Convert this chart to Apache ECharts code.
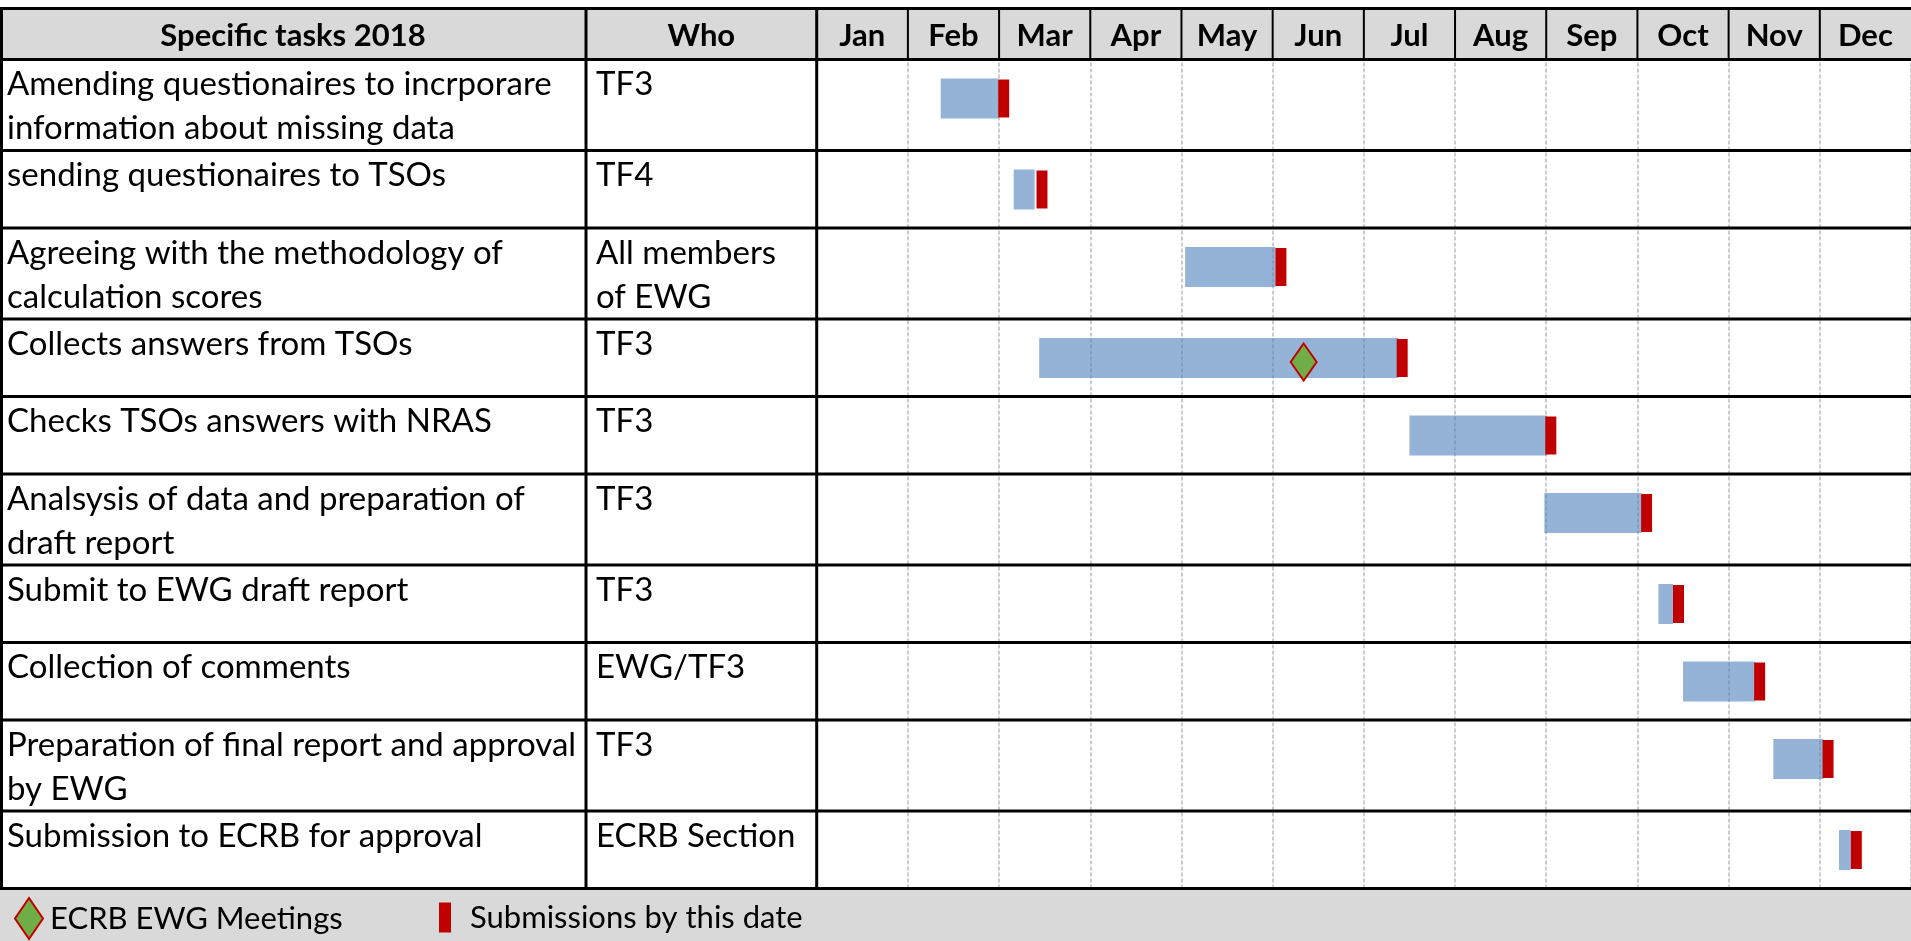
<!DOCTYPE html>
<html>
<head>
<meta charset="utf-8">
<script src="https://cdn.jsdelivr.net/npm/echarts@6/dist/echarts.min.js"></script>
<style>
  html, body { margin: 0; padding: 0; background: #fff; }
  #gantt { width: 1911px; height: 941px; }
</style>
</head>
<body>
<div id="gantt"></div>
<script>
// table content
var titles = ['Specific tasks 2018', 'Who'];
var months = ['Jan', 'Feb', 'Mar', 'Apr', 'May', 'Jun', 'Jul', 'Aug', 'Sep', 'Oct', 'Nov', 'Dec'];
var tasks = [
  'Amending questionaires to incrporare\ninformation about missing data',
  'sending questionaires to TSOs',
  'Agreeing with the methodology of\ncalculation scores',
  'Collects answers from TSOs',
  'Checks TSOs answers with NRAS',
  'Analsysis of data and preparation of\ndraft report',
  'Submit to EWG draft report',
  'Collection of comments',
  'Preparation of final report and approval\nby EWG',
  'Submission to ECRB for approval'
];
var owners = ['TF3', 'TF4', 'All members\nof EWG', 'TF3', 'TF3', 'TF3', 'TF3', 'EWG/TF3', 'TF3', 'ECRB Section'];

// dates in months from 1 Jan (0 = Jan 1, 12 = Dec 31)
var taskStart = [1.36, 2.16, 4.04, 2.44, 6.50, 7.98, 9.23, 9.50, 10.49, 11.21];
var taskEnd   = [1.99, 2.39, 5.03, 6.38, 8.01, 9.04, 9.39, 10.29, 11.04, 11.34];
var submitted = [1.99, 2.41, 5.03, 6.36, 7.99, 9.04, 9.39, 10.28, 11.03, 11.34];
var meetingRow = [3];
var meetingDate = [5.34];

// row heights follow the number of wrapped lines, like the sheet
var HEAD = 51;
var nLines = function (s) { return s.split('\n').length; };
var rowTop = [], rowBot = [];
var acc = 0;
tasks.forEach(function (t, i) {
  var n = Math.max(nLines(t), nLines(owners[i]));
  rowTop.push(acc);
  acc += n > 1 ? 91 : 77.5;
  rowBot.push(acc);
});
var TOTAL = acc;

var FONT = 'Lato';
var WHO_X = 586;
var chart = echarts.init(document.getElementById('gantt'));

function vline(x, y1, y2, w) {
  return { type: 'line', shape: { x1: x, y1: y1, x2: x, y2: y2 }, style: { stroke: '#000', lineWidth: w } };
}
function hline(y, x2, w) {
  return { type: 'line', shape: { x1: 0, y1: y, x2: x2, y2: y }, style: { stroke: '#000', lineWidth: w } };
}

function renderTable(params, api) {
  var i = params.dataIndex;
  var W = api.getWidth();
  var janX = api.coord([0, 0])[0];
  var kids = [];
  if (i === 0) {
    var yt = api.coord([0, -HEAD])[1], yb = api.coord([0, 0])[1];
    var ym = (yt + yb) / 2 + 2;
    var hf = 'bold 31px ' + FONT;
    kids.push({ type: 'rect', shape: { x: 0, y: yt, width: W, height: yb - yt }, style: { fill: '#d9d9d9' } });
    kids.push({ type: 'text', x: WHO_X / 2, y: ym, style: { text: titles[0], font: hf, fill: '#000', align: 'center', verticalAlign: 'middle' } });
    kids.push({ type: 'text', x: (WHO_X + janX) / 2, y: ym, style: { text: titles[1], font: hf, fill: '#000', align: 'center', verticalAlign: 'middle' } });
    months.forEach(function (m, k) {
      var cx = api.coord([k + 0.5, 0])[0];
      kids.push({ type: 'text', x: cx, y: ym, style: { text: m, font: hf, fill: '#000', align: 'center', verticalAlign: 'middle' } });
      if (k > 0) kids.push(vline(api.coord([k, 0])[0], yt, yb, 2));
    });
    kids.push(vline(1.5, yt, yb, 3), vline(WHO_X, yt, yb, 3), vline(janX, yt, yb, 3));
    kids.push(hline(yt, W, 3), hline(yb, W, 3));
  } else {
    var r = i - 1;
    var y1 = api.coord([0, rowTop[r]])[1], y2 = api.coord([0, rowBot[r]])[1];
    var bf = '33px ' + FONT;
    kids.push({ type: 'text', x: 7, y: y1 + 3, style: { text: tasks[r], font: bf, lineHeight: 44, fill: '#000', verticalAlign: 'top' } });
    kids.push({ type: 'text', x: WHO_X + 10, y: y1 + 3, style: { text: owners[r], font: bf, lineHeight: 44, fill: '#000', verticalAlign: 'top' } });
    kids.push(vline(1.5, y1, y2, 3), vline(WHO_X, y1, y2, 3), vline(janX, y1, y2, 3));
    kids.push(hline(y2, W, 3));
  }
  return { type: 'group', children: kids };
}

function renderTask(params, api) {
  var r = api.value(0);
  var p0 = api.coord([api.value(1), rowTop[r] + 19]);
  var p1 = api.coord([api.value(2), rowTop[r] + 59]);
  return { type: 'rect', shape: { x: p0[0], y: p0[1], width: p1[0] - p0[0], height: p1[1] - p0[1] }, style: { fill: 'rgba(79,129,189,0.6)' } };
}

function renderSubmit(params, api) {
  var r = api.value(0);
  var p0 = api.coord([api.value(1), rowTop[r] + 20]);
  var p1 = api.coord([api.value(1), rowTop[r] + 58]);
  return { type: 'rect', shape: { x: p0[0], y: p0[1], width: 11, height: p1[1] - p0[1] }, style: { fill: '#c00000' } };
}

var tableData = [0].concat(tasks.map(function (t, i) { return i + 1; }));
var taskData = tasks.map(function (t, i) { return [i, taskStart[i], taskEnd[i]]; });
var submitData = tasks.map(function (t, i) { return [i, submitted[i]]; });
var meetingData = meetingRow.map(function (r, k) { return [meetingDate[k], rowTop[r] + 43]; });

chart.setOption({
  animation: false,
  backgroundColor: '#fff',
  grid: { left: 816.7, width: 1100, top: 8.5, height: HEAD + TOTAL },
  xAxis: {
    type: 'value', min: 0, max: 12, interval: 1,
    axisLine: { show: false }, axisTick: { show: false }, axisLabel: { show: false },
    splitLine: { show: true, lineStyle: { color: '#cccccc', width: 2, type: [4, 2] } }
  },
  yAxis: {
    type: 'value', min: -HEAD, max: TOTAL, inverse: true, show: false,
    splitLine: { show: false }
  },
  legend: [
    {
      data: [{ name: 'ECRB EWG Meetings', icon: 'diamond' }],
      left: 14, top: 897, padding: 0, itemWidth: 28, itemHeight: 41, selectedMode: false,
      textStyle: { fontFamily: FONT, fontSize: 31, color: '#000', padding: [0, 0, 0, 2] }
    },
    {
      data: [{ name: 'Submissions by this date', icon: 'rect' }],
      left: 439, top: 902, padding: 0, itemWidth: 12, itemHeight: 30, selectedMode: false,
      textStyle: { fontFamily: FONT, fontSize: 31, color: '#000', padding: [0, 0, 0, 14] }
    }
  ],
  graphic: [
    { type: 'rect', left: 0, top: 889, shape: { width: 1911, height: 52 }, style: { fill: '#d9d9d9' }, z: -1 }
  ],
  series: [
    { type: 'custom', name: 'table', renderItem: renderTable, data: tableData, clip: false, silent: true, z: 3 },
    { type: 'custom', name: 'tasks', renderItem: renderTask, data: taskData, encode: { x: [1, 2] }, z: 2 },
    { type: 'custom', name: 'Submissions by this date', renderItem: renderSubmit, data: submitData, encode: { x: 1 }, itemStyle: { color: '#c00000' }, z: 4 },
    {
      type: 'scatter', name: 'ECRB EWG Meetings', data: meetingData, symbol: 'diamond', symbolSize: [26, 37],
      itemStyle: { color: '#70ad47', borderColor: '#c00000', borderWidth: 2, opacity: 1 }, z: 5
    }
  ]
});
</script>
</body>
</html>
